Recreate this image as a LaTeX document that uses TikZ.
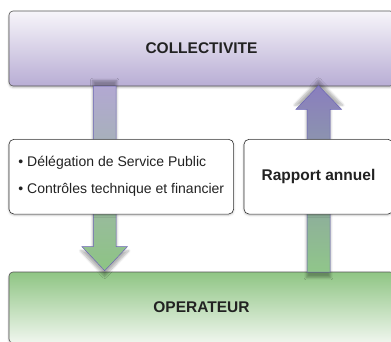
\documentclass[tikz,border=0pt]{standalone}
\usepackage{fontspec}
\setmainfont{Liberation Sans}
\usetikzlibrary{calc, shadows.blur}

\definecolor{lavtop}{HTML}{F7F5FA}
\definecolor{lavbot}{HTML}{B8ADD4}
\definecolor{grntop}{HTML}{8FC584}
\definecolor{grnbot}{HTML}{F0F6EE}
\definecolor{downtop}{HTML}{B2A8D2}
\definecolor{downmid}{HTML}{A9BCD6}
\definecolor{downbot}{HTML}{8DC484}
\definecolor{uptop}{HTML}{8A7EBE}
\definecolor{upmid}{HTML}{9AA3C9}
\definecolor{upbot}{HTML}{90C68A}
\definecolor{arrline}{HTML}{6A64B5}
\definecolor{boxline}{HTML}{555555}
\definecolor{txt}{HTML}{222222}

\tikzset{
  bigbox/.style={draw=boxline, line width=0.6pt, rounded corners=4pt,
    minimum height=#1, text=txt, font=\fontsize{15.5}{18}\selectfont\bfseries,
    blur shadow={shadow blur steps=6, shadow xshift=0pt, shadow yshift=-1.5pt, shadow opacity=25}},
  infobox/.style={draw=black!80, line width=0.6pt, rounded corners=5pt, fill=white,
    minimum width=#1, minimum height=74.7pt, text=txt,
    blur shadow={shadow blur steps=4, shadow xshift=0pt, shadow yshift=-1pt, shadow opacity=25}},
  flow/.style={draw=arrline, line width=0.5pt,
    blur shadow={shadow blur steps=6, shadow xshift=0pt, shadow yshift=0pt, shadow scale=1.06, shadow opacity=30}}
}

\begin{document}
\begin{tikzpicture}[x=1pt, y=-1pt]
  \useasboundingbox (0,0) rectangle (391,341);

  \node[bigbox=75pt, minimum width=385pt, top color=lavtop, bottom color=lavbot] (col) at (201.5, 48.5) {COLLECTIVITE};
  \node[bigbox=71pt, minimum width=385pt, top color=grntop, bottom color=grnbot] (op) at (201.5, 307.5) {OPERATEUR};

  % points where the fat arrows start and end
  \coordinate (dIn) at (104.7, 86);
  \coordinate (dOut) at (104.7, 270.7);
  \coordinate (uIn) at (318.5, 272);
  \coordinate (uOut) at (318.5, 85.7);

  % downward arrow: collectivite -> operateur
  \path[flow, top color=downtop, middle color=downmid, bottom color=downbot]
    ($(dIn)+(-11.35,0)$) -- ($(dIn)+(11.35,0)$) -- ($(dOut)+(11.35,-24)$) -- ($(dOut)+(22.7,-24)$)
    -- (dOut) -- ($(dOut)+(-22.7,-24)$) -- ($(dOut)+(-11.35,-24)$) -- cycle;

  % upward arrow: operateur -> collectivite
  \path[flow, top color=uptop, middle color=upmid, bottom color=upbot]
    ($(uIn)+(-11.5,0)$) -- ($(uIn)+(11.5,0)$) -- ($(uOut)+(11.5,23.6)$) -- ($(uOut)+(23,23.6)$)
    -- (uOut) -- ($(uOut)+(-22.5,23.6)$) -- ($(uOut)+(-11.5,23.6)$) -- cycle;

  \node[infobox=224.7pt, align=left, font=\fontsize{14}{27}\selectfont] (dsp) at (121.3, 176.7)
    {• Délégation de Service Public\\• Contrôles technique et financier};
  \node[infobox=149pt, font=\fontsize{15.5}{18}\selectfont\bfseries] (rap) at (318.5, 176.7) {Rapport annuel};
\end{tikzpicture}
\end{document}
